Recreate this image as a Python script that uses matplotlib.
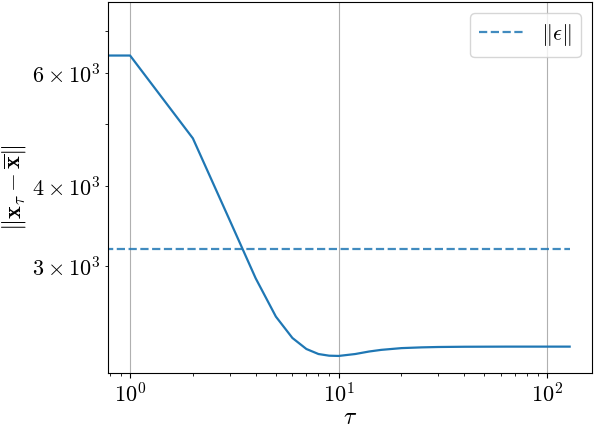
import matplotlib
matplotlib.use("Agg")
import matplotlib.pyplot as plt
import numpy as np

plt.rcParams["mathtext.fontset"] = "cm"
plt.rcParams["font.family"] = "serif"
plt.rcParams["font.serif"] = ["cmr10", "DejaVu Serif"]
plt.rcParams["axes.formatter.use_mathtext"] = True

# lag tau and distance to the mean
tau = [0, 1, 2, 3, 4, 5, 6, 7, 8, 9, 10, 12, 14, 16, 20, 25, 30, 40, 64, 100, 128]
dist = [7300, 6400, 4750, 3540, 2870, 2500, 2315, 2225, 2185, 2172, 2170,
        2185, 2205, 2218, 2232, 2238, 2241, 2243, 2244, 2244, 2244]
eps_norm = 3190

fig, ax = plt.subplots(figsize=(5.94, 4.28), dpi=100)
fig.subplots_adjust(left=0.182, right=0.996, top=0.995, bottom=0.129)

ax.plot(tau, dist, color="C0", lw=1.6)
ax.plot(tau, np.full(len(tau), eps_norm), "--", color="C0", alpha=0.85, lw=1.6,
        label=r"$\|\epsilon\|$")
ax.set_xscale("log")
ax.set_yscale("log")
ax.grid(True, axis="x", which="major", color="#b0b0b0", lw=0.8)

ax.set_xlabel(r"$\tau$", fontsize=17, labelpad=0)
ax.set_ylabel(r"$\|\mathbf{x}_\tau - \overline{\mathbf{x}}\|$", fontsize=17.5, labelpad=3)
ax.tick_params(which="both", labelsize=16)
ax.legend(loc="upper right", fontsize=16)

fig.savefig("out.png", dpi=100)
